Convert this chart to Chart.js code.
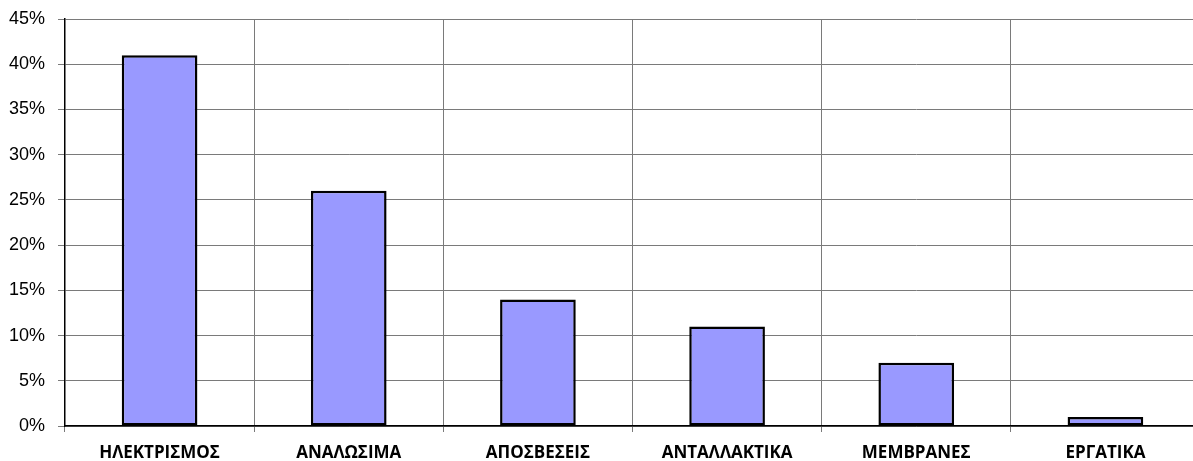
<!DOCTYPE html>
<html>
<head>
<meta charset="utf-8">
<style>
  html, body { margin: 0; padding: 0; background: #ffffff; overflow: hidden; }
  #wrap { width: 1200px; height: 461px; }
</style>
<script src="https://cdn.jsdelivr.net/npm/chart.js@4/dist/chart.umd.min.js"></script>
</head>
<body>
<div id="wrap"><canvas id="chart" width="1200" height="461"></canvas></div>
<script>
// Cost categories and their share of the total (%)
const categories = ['ΗΛΕΚΤΡΙΣΜΟΣ', 'ΑΝΑΛΩΣΙΜΑ', 'ΑΠΟΣΒΕΣΕΙΣ', 'ΑΝΤΑΛΛΑΚΤΙΚΑ', 'ΜΕΜΒΡΑΝΕΣ', 'ΕΡΓΑΤΙΚΑ'];
const shares = [41, 26, 14, 11, 7, 1];
const yMin = 0;
const yMax = 45;
const yStep = 5;

const gridGray = '#7a7a7a';

new Chart(document.getElementById('chart'), {
  type: 'bar',
  data: {
    labels: categories,
    datasets: [{
      data: shares,
      backgroundColor: '#9999ff',
      borderColor: '#000000',
      borderWidth: 2.5,
      borderSkipped: false,
      barPercentage: 0.4,
      categoryPercentage: 1.0
    }]
  },
  options: {
    responsive: false,
    devicePixelRatio: 1,
    animation: false,
    layout: { padding: { top: 19, left: 0, right: 0, bottom: 0 } },
    plugins: {
      legend: { display: false },
      tooltip: { enabled: false }
    },
    scales: {
      x: {
        grid: {
          display: true,
          offset: true,
          // separators between categories only, no closing line on the right
          color: (ctx) => ctx.type === 'tick' ? gridGray : 'rgba(0,0,0,0)',
          lineWidth: 1,
          tickLength: 6,
          drawTicks: true
        },
        border: { display: true, color: '#000000', width: 1.5 },
        ticks: {
          color: '#000000',
          font: { family: '"Open Sans", sans-serif', size: 17, weight: 'bold' },
          padding: 11,
          maxRotation: 0,
          autoSkip: false
        },
        afterFit: (scale) => { scale.height = 35; }
      },
      y: {
        min: yMin,
        max: yMax,
        grid: {
          color: gridGray,
          lineWidth: 1,
          tickLength: 7
        },
        border: { display: true, color: '#000000', width: 1.5 },
        ticks: {
          stepSize: yStep,
          color: '#000000',
          font: { family: '"Liberation Sans", Arial, sans-serif', size: 18, lineHeight: 0.65 },
          padding: 13,
          callback: (v) => v + '%'
        },
        afterFit: (scale) => { scale.width = 65; }
      }
    }
  }
});
</script>
</body>
</html>
